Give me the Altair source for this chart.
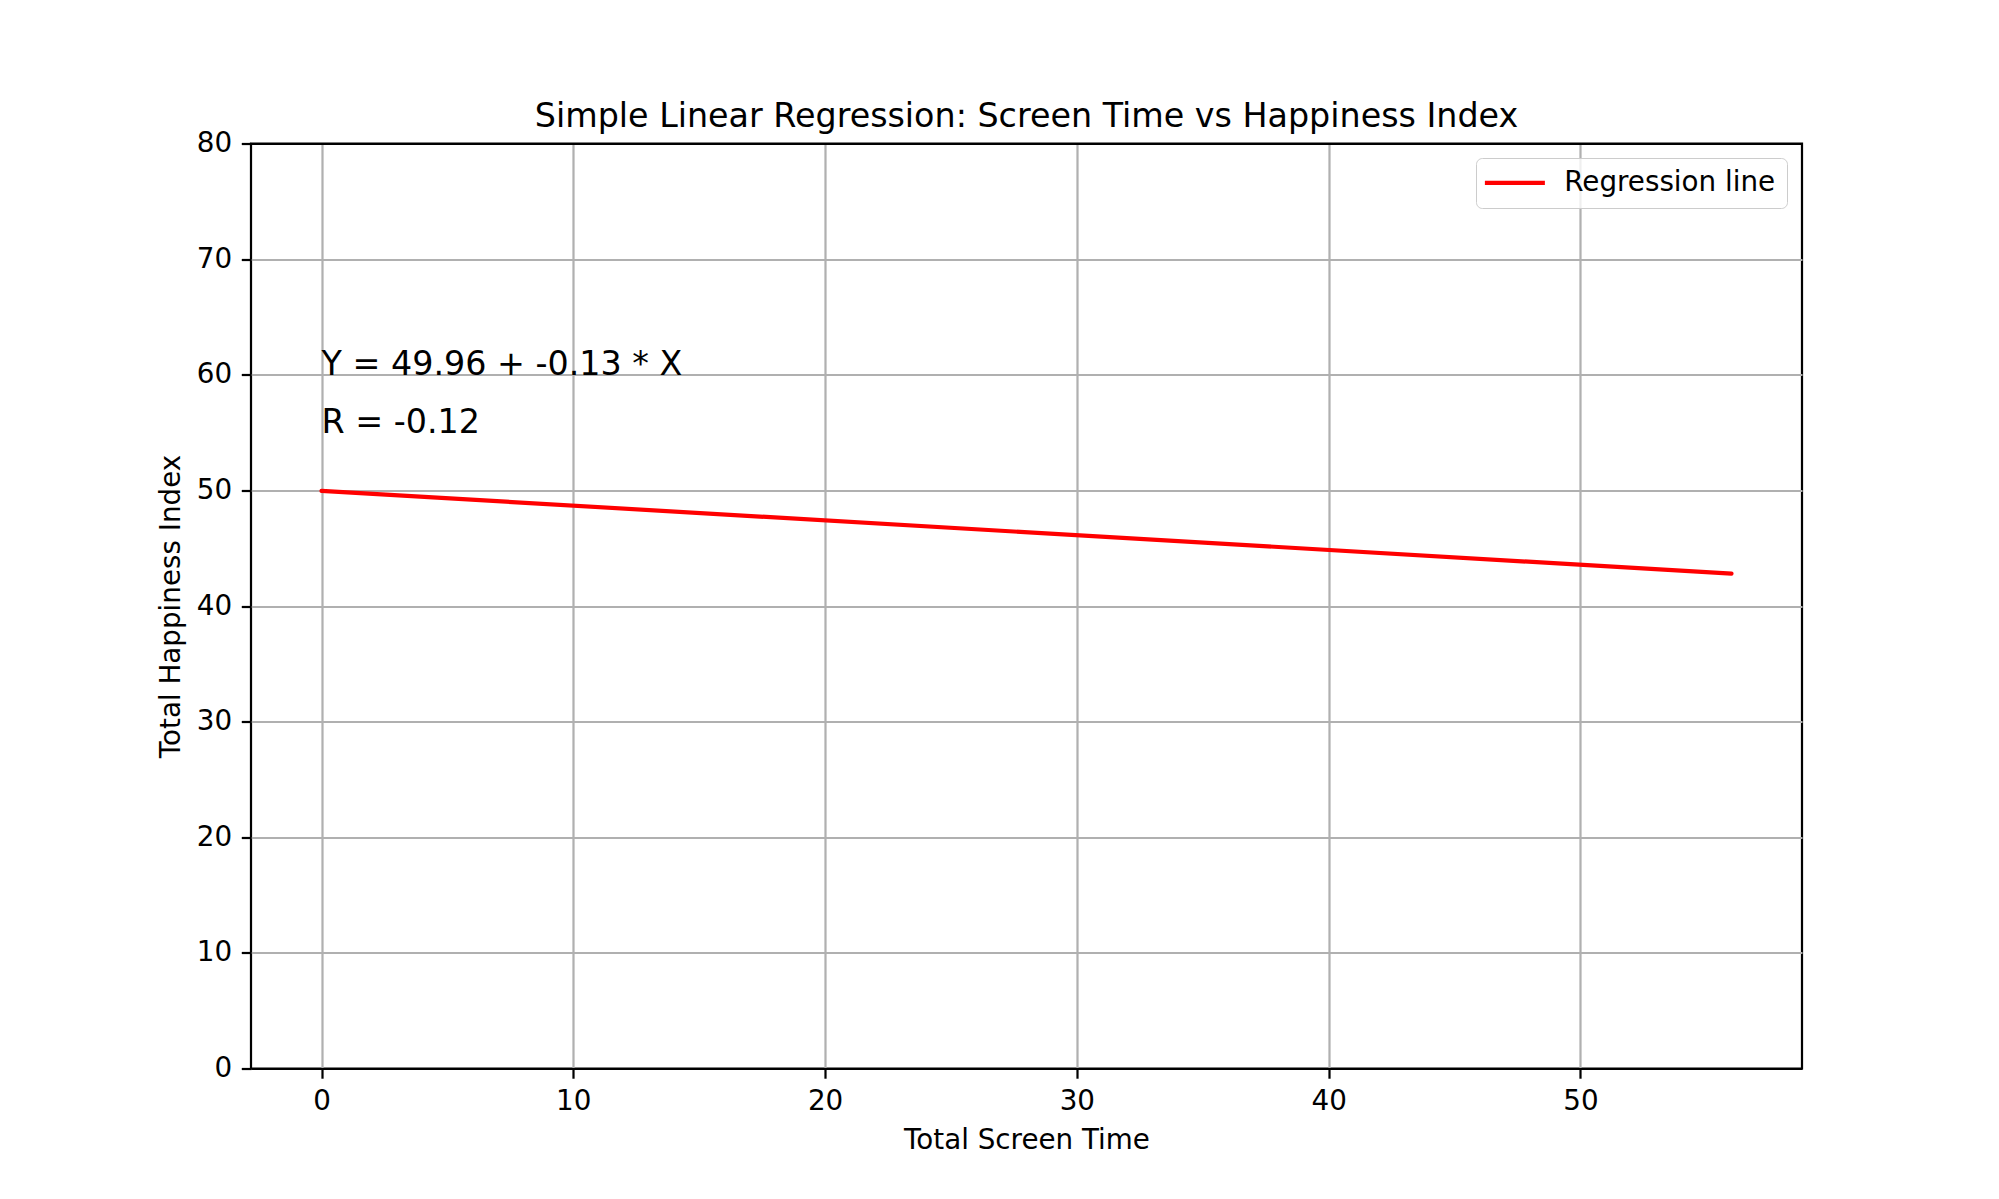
import pandas as pd
import altair as alt

# regression line end points
line_x = [0, 56]
line_y = [49.96, 42.8]
series = ["Regression line", "Regression line"]

# annotation texts
ann_text = ["Y = 49.96 + -0.13 * X", "R = -0.12"]
ann_x = [0, 0]
ann_y = [60, 55]

x_ticks = [0, 10, 20, 30, 40, 50]
y_ticks = [0, 10, 20, 30, 40, 50, 60, 70, 80]

FONT = "DejaVu Sans"
PT = 200 / 72  # figure was 200 dpi

line_df = pd.DataFrame({"x": line_x, "y": line_y, "series": series})
ann_df = pd.DataFrame({"x": ann_x, "y": ann_y, "text": ann_text})

# grid lines on the frame edges are drawn black so the spines stay black
edge_color = {"condition": {"test": "datum.value == 0 || datum.value == 80", "value": "black"},
              "value": "#b0b0b0"}

x_enc = alt.X("x:Q", scale=alt.Scale(domain=[-2.8, 58.8], nice=False, zero=False),
              title="Total Screen Time",
              axis=alt.Axis(values=x_ticks, format="d"))
y_enc = alt.Y("y:Q", scale=alt.Scale(domain=[0, 80], nice=False),
              title="Total Happiness Index",
              axis=alt.Axis(values=y_ticks, format="d", gridColor=edge_color))

line = alt.Chart(line_df).mark_line(strokeWidth=1.5 * PT, strokeCap="round").encode(
    x=x_enc,
    y=y_enc,
    color=alt.Color("series:N",
                    scale=alt.Scale(domain=["Regression line"], range=["#ff0000"]),
                    legend=alt.Legend(title=None, orient="none", legendX=1225, legendY=14.5,
                                      symbolType="M-1.6,0L4.4,0", symbolSize=400,
                                      symbolStrokeWidth=1.5 * PT, labelOffset=49.5,
                                      labelFontSize=10 * PT, labelFont=FONT, labelColor="black",
                                      labelLimit=500,
                                      padding=11, fillColor="rgba(255,255,255,0.8)",
                                      strokeColor="#cccccc", cornerRadius=6))
)

notes = alt.Chart(ann_df).mark_text(align="left", baseline="alphabetic", fontSize=12 * PT,
                                    font=FONT, color="black").encode(
    x="x:Q", y="y:Q", text="text:N"
)

chart = alt.layer(line, notes).properties(
    width=1551, height=925,
    autosize=alt.AutoSizeParams(type="none"),
    padding={"left": 243, "top": 135.5, "right": 180, "bottom": 110},
    title=alt.Title("Simple Linear Regression: Screen Time vs Happiness Index",
                    fontSize=12 * PT, font=FONT, fontWeight="normal", color="black",
                    baseline="alphabetic", frame="group", offset=17, dy=48, anchor="middle"),
).configure_view(
    stroke="black", strokeWidth=0.8 * PT
).configure_axis(
    grid=True, gridColor="#b0b0b0", gridWidth=0.8 * PT,
    domain=False,
    tickColor="black", tickWidth=0.8 * PT, tickSize=3.5 * PT,
    labelFont=FONT, labelFontSize=10 * PT, labelColor="black", labelPadding=3.5 * PT,
    titleFont=FONT, titleFontSize=10 * PT, titleColor="black", titleFontWeight="normal",
    titlePadding=4 * PT
)

chart.save("out.html", embed_options={"renderer": "svg", "actions": False})
